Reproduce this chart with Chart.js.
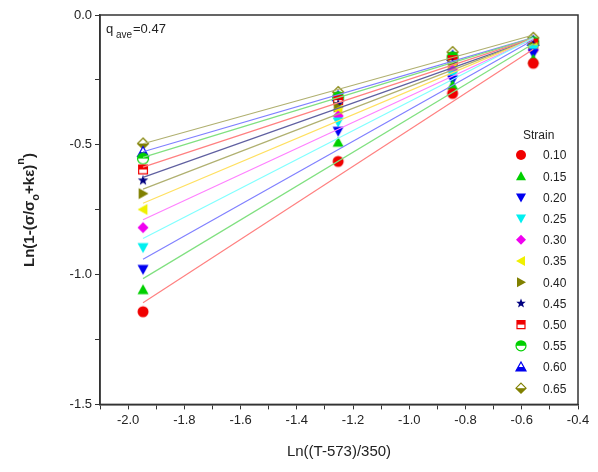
<!DOCTYPE html>
<html><head><meta charset="utf-8">
<script src="https://cdn.jsdelivr.net/npm/chart.js@4"></script>
<style>html,body{margin:0;background:#fff}#wrap{width:598px;height:472px}</style>
</head><body><div id="wrap"><canvas id="c"></canvas></div>
<script>
const xs = [-1.947, -1.253, -0.846, -0.559];
const strains = ['0.10','0.15','0.20','0.25','0.30','0.35','0.40','0.45','0.50','0.55','0.60','0.65'];
const yVals = [
  [-1.143, -0.564, -0.302, -0.186],
  [-1.058, -0.490, -0.270, -0.170],
  [-0.980, -0.448, -0.250, -0.148],
  [-0.896, -0.412, -0.232, -0.133],
  [-0.819, -0.389, -0.212, -0.136],
  [-0.749, -0.367, -0.205, -0.125],
  [-0.688, -0.355, -0.193, -0.120],
  [-0.637, -0.343, -0.185, -0.115],
  [-0.595, -0.328, -0.174, -0.110],
  [-0.553, -0.317, -0.163, -0.105],
  [-0.528, -0.313, -0.158, -0.100],
  [-0.495, -0.297, -0.143, -0.088]
];
const markColors = ['#f00000','#00d000','#0000f0','#00f0f0','#f000f0','#f0f000','#808000','#000080','#f00000','#00d000','#0000f0','#808000'];
const lineColors = ['#ff8080','#80e080','#8080ff','#80ffff','#ff80ff','#ffe060','#b0b070','#6060a0','#ff8080','#80e080','#8080ff','#b0b070'];
const shapes = ['circle','tri','down','down','diamond','left','right','star','halfsq','halfcirc','halftri','halfdia'];

function path(ctx, s, r) {
  ctx.beginPath();
  if (s === 'circle' || s === 'halfcirc') ctx.arc(0, 0, r, 0, Math.PI * 2);
  else if (s === 'tri' || s === 'halftri') { ctx.moveTo(0, -r); ctx.lineTo(r, r * 0.8); ctx.lineTo(-r, r * 0.8); ctx.closePath(); }
  else if (s === 'down') { ctx.moveTo(0, r); ctx.lineTo(r, -r * 0.8); ctx.lineTo(-r, -r * 0.8); ctx.closePath(); }
  else if (s === 'left') { ctx.moveTo(-r, 0); ctx.lineTo(r * 0.8, -r); ctx.lineTo(r * 0.8, r); ctx.closePath(); }
  else if (s === 'right') { ctx.moveTo(r, 0); ctx.lineTo(-r * 0.8, -r); ctx.lineTo(-r * 0.8, r); ctx.closePath(); }
  else if (s === 'diamond' || s === 'halfdia') { ctx.moveTo(0, -r); ctx.lineTo(r, 0); ctx.lineTo(0, r); ctx.lineTo(-r, 0); ctx.closePath(); }
  else if (s === 'halfsq') ctx.rect(-r * 0.8, -r * 0.8, r * 1.6, r * 1.6);
  else if (s === 'star') {
    for (let i = 0; i < 10; i++) {
      const a = -Math.PI / 2 + i * Math.PI / 5, rr = i % 2 ? r * 0.42 : r;
      ctx.lineTo(Math.cos(a) * rr, Math.sin(a) * rr);
    }
    ctx.closePath();
  }
}
function drawMark(ctx, s, col, x, y, r) {
  ctx.save(); ctx.translate(x, y);
  path(ctx, s, r);
  if (s.startsWith('half')) {
    ctx.fillStyle = '#fff'; ctx.fill();
    ctx.save(); ctx.clip();
    ctx.fillStyle = col;
    if (s === 'halfsq' || s === 'halfcirc') ctx.fillRect(-r, -r, 2 * r, r);
    else ctx.fillRect(-r, 0, 2 * r, r);
    ctx.restore();
    ctx.strokeStyle = col; ctx.lineWidth = 1.2; path(ctx, s, r); ctx.stroke();
  } else { ctx.fillStyle = col; ctx.fill(); }
  ctx.restore();
}
function markCanvas(s, col) {
  const c = document.createElement('canvas'); c.width = 14; c.height = 14;
  drawMark(c.getContext('2d'), s, col, 7, 7, 5.5);
  return c;
}
function fit(ys) {
  const n = xs.length, mx = xs.reduce((a, b) => a + b) / n, my = ys.reduce((a, b) => a + b) / n;
  let sxy = 0, sxx = 0;
  xs.forEach((x, i) => { sxy += (x - mx) * (ys[i] - my); sxx += (x - mx) ** 2; });
  const b = sxy / sxx, a = my - b * mx;
  return [{ x: xs[0], y: a + b * xs[0] }, { x: xs[3], y: a + b * xs[3] }];
}

const datasets = [];
yVals.forEach((ys, i) => {
  datasets.push({ type: 'line', data: fit(ys), borderColor: lineColors[i], borderWidth: 1.2, pointRadius: 0 });
});
yVals.forEach((ys, i) => {
  datasets.push({ type: 'scatter', data: xs.map((x, j) => ({ x, y: ys[j] })), pointStyle: markCanvas(shapes[i], markColors[i]), pointRadius: 7 });
});

const extras = {
  id: 'extras',
  afterDraw(chart) {
    const { ctx, chartArea: ca } = chart;
    ctx.save();
    ctx.strokeStyle = '#333'; ctx.lineWidth = 1.5;
    ctx.strokeRect(ca.left, ca.top, ca.right - ca.left, ca.bottom - ca.top);
    ctx.fillStyle = '#222'; ctx.textBaseline = 'alphabetic';
    ctx.font = '13px Arial';
    ctx.fillText('q', 106, 33);
    ctx.font = '10px Arial'; ctx.fillText('ave', 116, 38);
    ctx.font = '13px Arial'; ctx.fillText('=0.47', 133, 33);
    // legend
    ctx.font = '12px Arial';
    ctx.fillText('Strain', 523, 139);
    strains.forEach((s, i) => {
      const y = 155 + i * 21.2;
      drawMark(ctx, shapes[i], markColors[i], 521, y, 5);
      ctx.fillStyle = '#222';
      ctx.textBaseline = 'middle';
      ctx.fillText(s, 543, y + 1);
    });
    // y title
    ctx.translate(34, 210); ctx.rotate(-Math.PI / 2);
    ctx.textBaseline = 'alphabetic';
    const parts = [['Ln(1-(σ/σ', 15, 0], ['o', 11, 5], ['+kε)', 15, 0], ['n', 11, -10], [')', 15, 0]];
    let w = 0;
    parts.forEach(p => { ctx.font = 'bold ' + p[1] + 'px Arial'; w += ctx.measureText(p[0]).width; });
    let x = -w / 2;
    parts.forEach(p => { ctx.font = 'bold ' + p[1] + 'px Arial'; ctx.fillText(p[0], x, p[2]); x += ctx.measureText(p[0]).width; });
    ctx.restore();
  }
};

new Chart(document.getElementById('c'), {
  data: { datasets },
  plugins: [extras],
  options: {
    responsive: true, maintainAspectRatio: false, animation: false,
    layout: { padding: { top: 15, right: 20, left: 0, bottom: 7 } },
    plugins: { legend: { display: false }, tooltip: { enabled: false } },
    scales: {
      x: {
        type: 'linear', min: -2.1, max: -0.4,
        ticks: { stepSize: 0.1, color: '#222', font: { size: 13, family: 'Arial' }, maxRotation: 0, autoSkip: false,
          callback: v => Math.round(v * 10) % 2 === 0 ? v.toFixed(1) : '' },
        grid: { drawOnChartArea: false, tickLength: 5, color: '#333' },
        border: { color: '#333', width: 1.5 },
        title: { display: true, text: 'Ln((T-573)/350)', color: '#222', font: { size: 15, family: 'Arial' }, padding: { top: 12 } }
      },
      y: {
        min: -1.5, max: 0,
        ticks: { stepSize: 0.25, color: '#222', font: { size: 13, family: 'Arial' }, autoSkip: false,
          callback: v => Math.round(v * 4) % 2 === 0 ? v.toFixed(1) : '' },
        grid: { drawOnChartArea: false, tickLength: 5, color: '#333' },
        border: { color: '#333', width: 1.5 },
        afterFit: s => { s.width = 100; }
      }
    }
  }
});
</script></body></html>
